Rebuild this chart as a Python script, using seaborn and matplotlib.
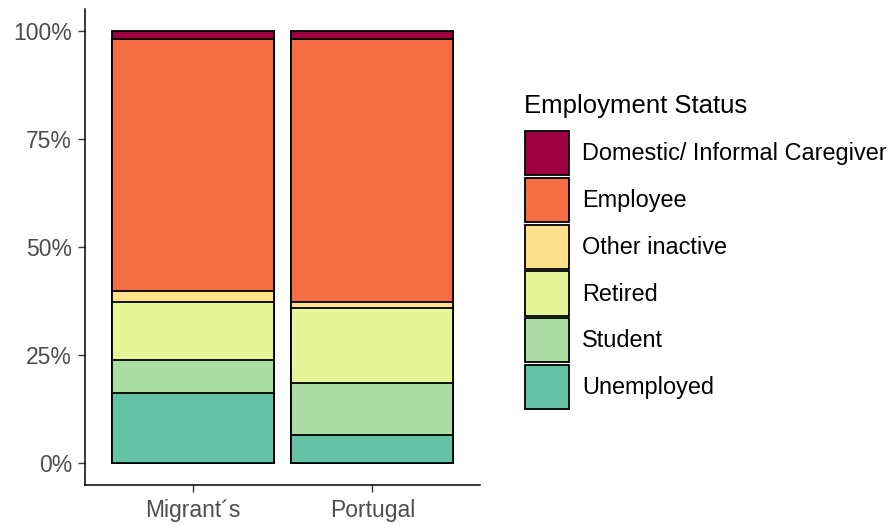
import numpy as np
import pandas as pd
import matplotlib
matplotlib.use("Agg")
import matplotlib.pyplot as plt
import seaborn as sns
from matplotlib.patches import Patch
from matplotlib.ticker import PercentFormatter

# data (shares per group)
groups = ["Migrant´s", "Portugal"]
statuses = ["Domestic/ Informal Caregiver", "Employee", "Other inactive",
            "Retired", "Student", "Unemployed"]
colors = ["#9E0142", "#F46D43", "#FEE08B", "#E6F598", "#ABDDA4", "#66C2A5"]

unemployed = [0.163, 0.065]
student = [0.076, 0.121]
retired = [0.134, 0.172]
other_inactive = [0.025, 0.014]
employee = [0.583, 0.609]
domestic = [0.019, 0.019]

sns.set_style("white")
plt.rcParams["font.family"] = ["Liberation Sans", "DejaVu Sans"]

# bottom-up stacking order
layers = [unemployed, student, retired, other_inactive, employee, domestic]
layer_colors = colors[::-1]
tops = np.cumsum(np.array(layers), axis=0)

fig = plt.figure(figsize=(8.94, 5.24), dpi=100)
ax = fig.add_axes([85 / 894, 1 - 485 / 524, 395 / 894, (485 - 9) / 524])

# draw from the tallest cumulative layer down so each segment shows
for i in range(len(layers) - 1, -1, -1):
    df = pd.DataFrame({"group": groups, "top": tops[i]})
    sns.barplot(data=df, x="group", y="top", color=layer_colors[i],
                edgecolor="black", linewidth=1.3, width=0.9,
                errorbar=None, saturation=1, ax=ax)

ax.set_xlim(-0.6, 1.6)
ax.set_ylim(-0.05, 1.05)
ax.set_yticks([0, 0.25, 0.5, 0.75, 1.0])
ax.yaxis.set_major_formatter(PercentFormatter(xmax=1, decimals=0))
ax.set_xlabel("")
ax.set_ylabel("")
ax.tick_params(axis="both", which="both", direction="out", length=5,
               width=1, color="#333333", labelsize=16.5, labelcolor="#4D4D4D",
               left=True, bottom=True)
ax.tick_params(axis="y", pad=4.2)
ax.tick_params(axis="x", pad=5)
for s in ["top", "right"]:
    ax.spines[s].set_visible(False)
for s in ["left", "bottom"]:
    ax.spines[s].set_color("black")
    ax.spines[s].set_linewidth(1.1)

# legend: title as its own text so the gap to the keys matches
fig.text(524 / 894, 1 - 113 / 524, "Employment Status", fontsize=18.5,
         color="black", ha="left", va="baseline")
handles = [Patch(facecolor=c, edgecolor="black", linewidth=1.3) for c in colors]
leg = fig.legend(handles, statuses,
                 loc="upper left", bbox_to_anchor=(525 / 894, 1 - 131 / 524),
                 frameon=False, fontsize=16.9,
                 handlelength=1.86, handleheight=2.52, labelspacing=0.11,
                 handletextpad=0.58, borderpad=0, borderaxespad=0)
for t in leg.get_texts():
    t.set_color("black")

fig.savefig("out.png", dpi=100)
